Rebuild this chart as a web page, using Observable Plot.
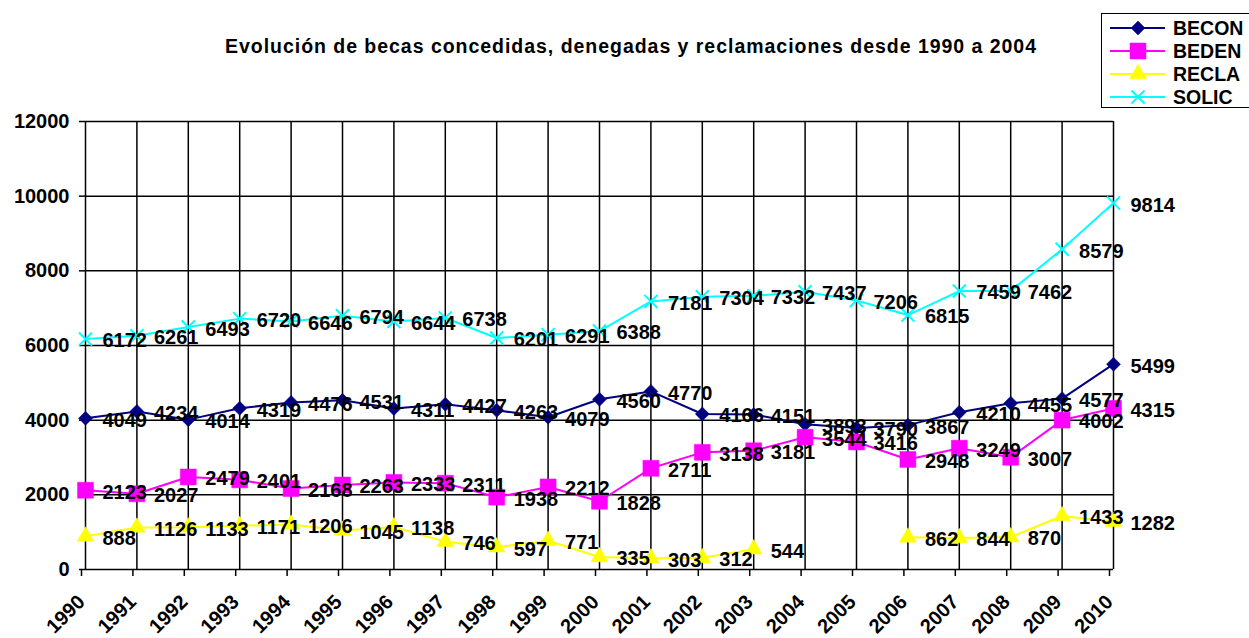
<!DOCTYPE html>
<html>
<head>
<meta charset="utf-8">
<script src="https://cdn.jsdelivr.net/npm/d3@7"></script>
<script src="https://cdn.jsdelivr.net/npm/@observablehq/plot@0.6"></script>
<style>
  html, body { margin: 0; padding: 0; background: #fff; }
  body { width: 1249px; height: 638px; overflow: hidden; font-family: "Liberation Sans", Arial, sans-serif; }
  #header { position: relative; width: 1249px; height: 100px; }
  #title { position: absolute; left: 225px; top: 35px; font-size: 19.5px; font-weight: bold; white-space: nowrap; color: #000; }
  #legend { position: absolute; left: 1101px; top: 13px; width: 150px; height: 95px; border: 1.5px solid #000; box-sizing: border-box; background: #fff; }
  .lrow { position: absolute; left: 0; height: 22px; display: flex; align-items: center; }
  .lrow span { font-size: 19.5px; font-weight: bold; margin-left: 5px; color: #000; }
</style>
</head>
<body>
<div id="header">
  <div id="title">Evolución de becas concedidas, denegadas y reclamaciones desde 1990 a 2004</div>
  <div id="legend"></div>
</div>
<div id="chart"></div>
<script>
const years = [1990,1991,1992,1993,1994,1995,1996,1997,1998,1999,2000,2001,2002,2003,2004,2005,2006,2007,2008,2009,2010];
const becon = [4049,4234,4014,4319,4476,4531,4311,4427,4263,4079,4560,4770,4166,4151,3893,3790,3867,4210,4455,4577,5499];
const beden = [2123,2027,2479,2401,2168,2263,2333,2311,1938,2212,1828,2711,3138,3181,3544,3416,2948,3249,3007,4002,4315];
const recla = [888,1126,1133,1171,1206,1045,1138,746,597,771,335,303,312,544,null,null,862,844,870,1433,1282];
const solic = [6172,6261,6493,6720,6646,6794,6644,6738,6201,6291,6388,7181,7304,7332,7437,7206,6815,7459,7462,8579,9814];
const yTicks = [0,2000,4000,6000,8000,10000,12000];
const seriesNames = ["BECON","BEDEN","RECLA","SOLIC"];
const seriesColors = ["#000080","#FF00FF","#FFFF00","#00FFFF"];
const seriesSymbols = ["diamond2","square","triangle","times"];
const seriesR = [6.3, 9, 6.2, 6];
const seriesValues = [becon, beden, recla, solic];

const rows = [];
seriesNames.forEach((name, i) => {
  seriesValues[i].forEach((v, j) => rows.push({series: name, year: years[j], value: v}));
});

const marks = [
  Plot.gridY(yTicks, {stroke: "#000", strokeOpacity: 1, strokeWidth: 1.5}),
  Plot.gridX(years, {stroke: "#000", strokeOpacity: 1, strokeWidth: 1.5}),
  Plot.axisY(yTicks, {tickSize: 6, tickPadding: 10, fontSize: 20, fontWeight: "bold", tickFormat: d => String(d), stroke: "#000", strokeWidth: 1.5, label: null}),
  Plot.axisX(years, {tickSize: 7, tickPadding: 22, dx: -4, tickRotate: -45, fontSize: 20, fontWeight: "bold", tickFormat: d => String(d), stroke: "#000", strokeWidth: 1.5, label: null})
];
seriesNames.forEach((name, i) => {
  const data = rows.filter(r => r.series === name);
  marks.push(Plot.line(data, {x: "year", y: "value", stroke: seriesColors[i], strokeWidth: 2}));
  const isStroke = seriesSymbols[i] === "times";
  marks.push(Plot.dot(data, {
    x: "year", y: "value", symbol: () => seriesSymbols[i], r: seriesR[i],
    fill: isStroke ? "none" : seriesColors[i],
    stroke: seriesColors[i], strokeWidth: isStroke ? 2 : 0.5
  }));
});
marks.push(Plot.text(rows.filter(r => r.value != null), {
  x: "year", y: "value", text: d => String(d.value), textAnchor: "start",
  dx: 17, dy: 2, fontSize: 20, fontWeight: "bold", fill: "#000"
}));

const chart = Plot.plot({
  width: 1249, height: 538,
  marginTop: 21, marginBottom: 69, marginLeft: 85, marginRight: 136,
  style: {fontFamily: "'Liberation Sans', Arial, sans-serif", color: "#000", background: "#fff", overflow: "visible"},
  x: {type: "linear", domain: [1990, 2010], label: null},
  y: {type: "linear", domain: [0, 12000], label: null},
  marks
});
document.getElementById("chart").appendChild(chart);

// title width fit
const t = document.getElementById("title");
const w = t.getBoundingClientRect().width;
const n = t.textContent.length;
t.style.letterSpacing = Math.max(0, (812 - w) / n) + "px";

// legend
const legend = document.getElementById("legend");
const rowY = [3, 26, 49, 72];
seriesNames.forEach((name, i) => {
  const row = document.createElement("div");
  row.className = "lrow";
  row.style.top = rowY[i] + "px";
  const sym = d3.symbol(
    {diamond2: d3.symbolDiamond2, square: d3.symbolSquare, triangle: d3.symbolTriangle, times: d3.symbolTimes}[seriesSymbols[i]],
    Math.PI * seriesR[i] * seriesR[i]
  )();
  const isStroke = seriesSymbols[i] === "times";
  row.innerHTML = `<svg width="66" height="22" style="display:block"><line x1="8" x2="63" y1="11" y2="11" stroke="${seriesColors[i]}" stroke-width="2"/>` +
    `<path transform="translate(36,11)" d="${sym}" fill="${isStroke ? "none" : seriesColors[i]}" stroke="${seriesColors[i]}" stroke-width="${isStroke ? 2 : 0.5}"/></svg><span>${name}</span>`;
  legend.appendChild(row);
});
</script>
</body>
</html>
